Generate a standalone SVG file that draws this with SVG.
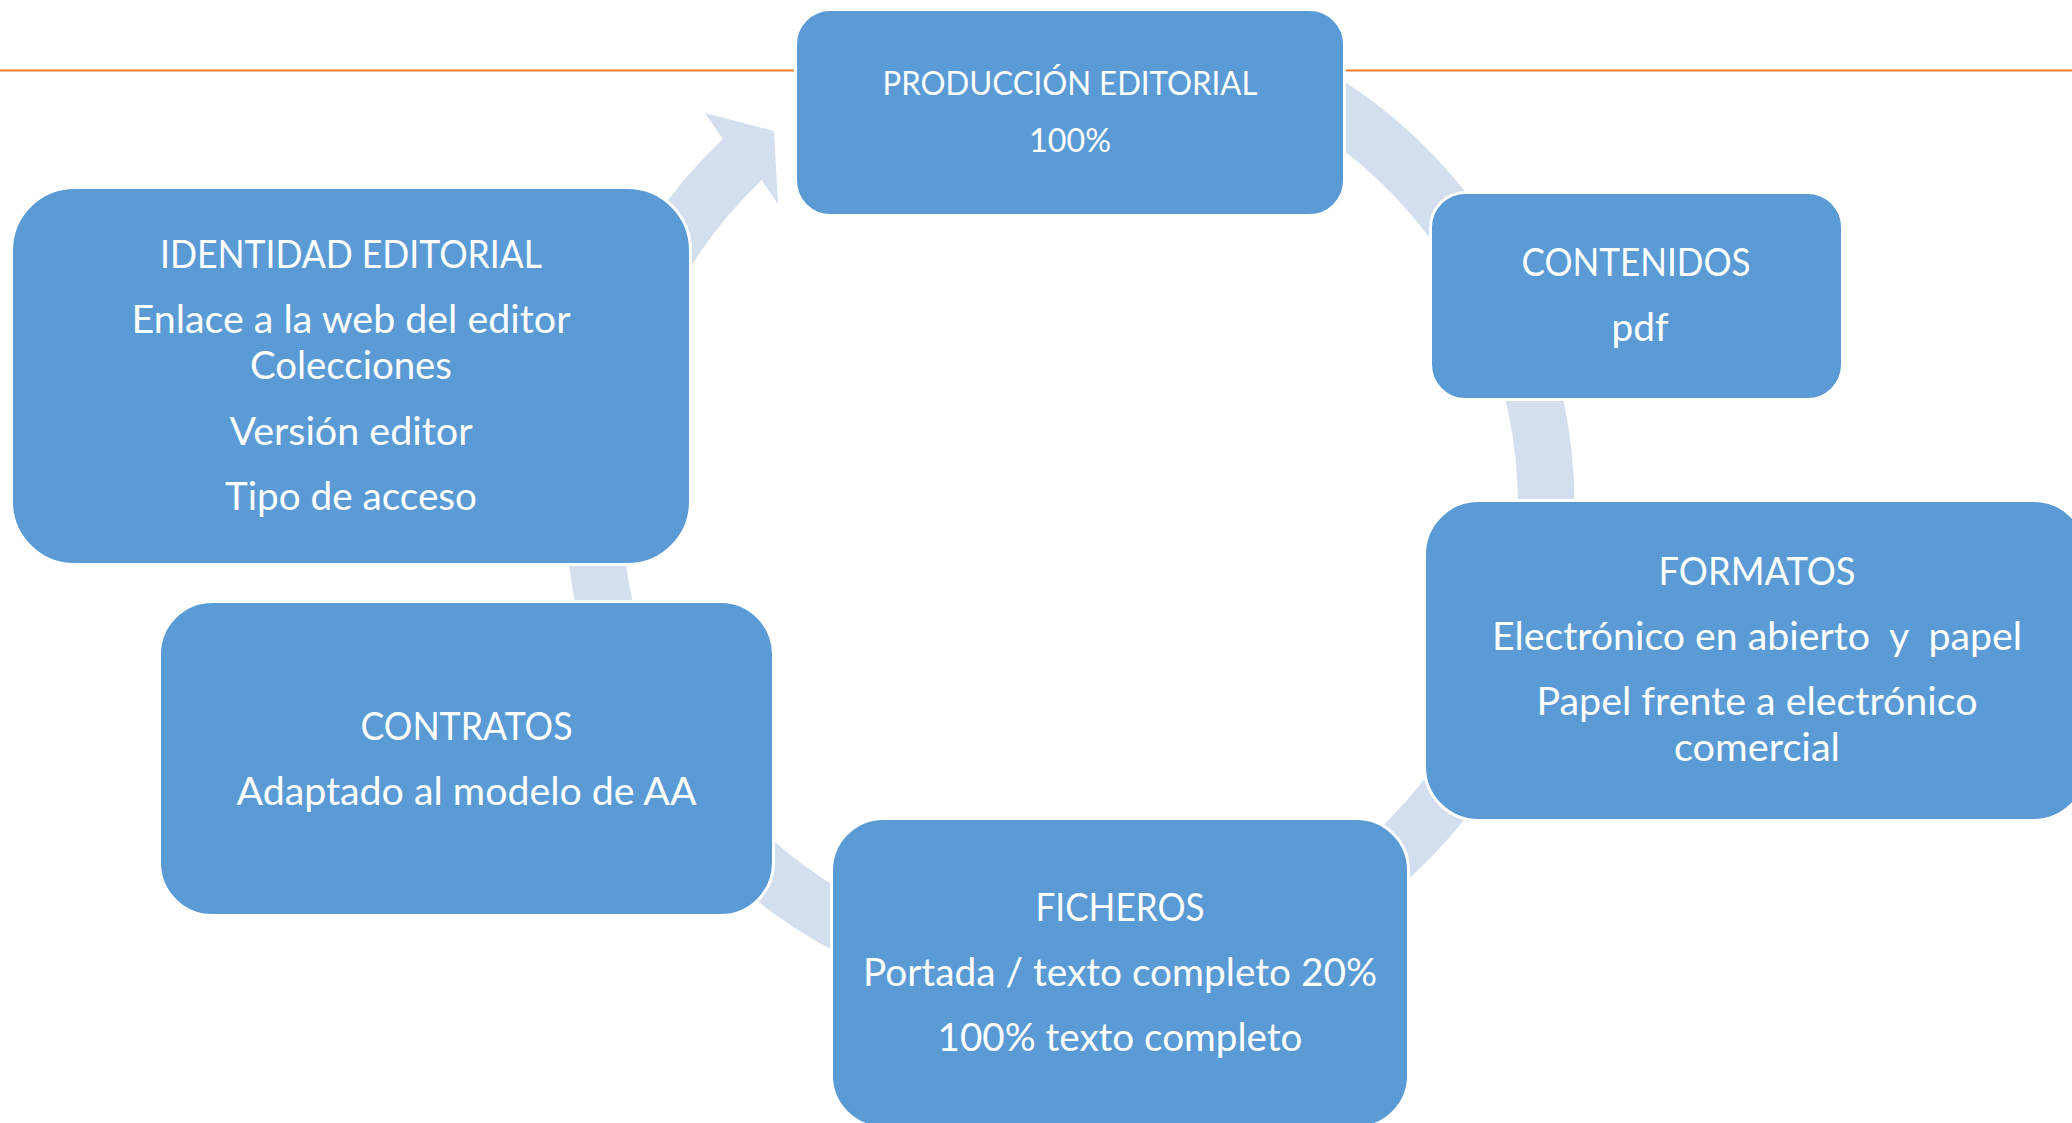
<svg xmlns="http://www.w3.org/2000/svg" width="2072" height="1123" viewBox="0 0 2072 1123">
  <style>
    .node rect { fill: #5B9BD5; stroke: #FFFFFF; stroke-width: 3; }
    .node text { fill: #FFFFFF; font-family: Lato, "Open Sans", "Noto Sans", sans-serif; font-size: 38px; text-anchor: middle; }
    .node text.small { font-size: 33.5px; }
    .band { fill: #D3DEEF; stroke: none; }
    .rule { stroke: #ED7D31; stroke-width: 2; fill: none; }
  </style>
  <rect x="0" y="0" width="2072" height="1123" fill="#FFFFFF"/>
  <line class="rule" x1="0" y1="70.5" x2="2072" y2="70.5"/>

  <g id="connectors">
    <path class="band" d="M 1200.57 17.69 A 504.5 504.5 0 1 1 722.72 139.05 L 705 113 L 774 131 L 778 204 L 761.62 180.03 A 448 448 0 1 0 1185.95 72.27 Z"/>
  </g>

  <g id="node-produccion" class="node">
    <rect x="795.5" y="9.5" width="549" height="206" rx="35" ry="35"/>
    <text class="small" x="1070" y="95" textLength="375" lengthAdjust="spacingAndGlyphs">PRODUCCIÓN EDITORIAL</text>
    <text class="small" x="1070" y="152" textLength="82" lengthAdjust="spacingAndGlyphs">100%</text>
  </g>

  <g id="node-contenidos" class="node">
    <rect x="1430.5" y="192.5" width="412" height="207" rx="35" ry="35"/>
    <text x="1636" y="276" textLength="229" lengthAdjust="spacingAndGlyphs">CONTENIDOS</text>
    <text x="1640" y="341" textLength="57" lengthAdjust="spacingAndGlyphs">pdf</text>
  </g>

  <g id="node-formatos" class="node">
    <rect x="1424.5" y="500.5" width="663" height="320" rx="54" ry="54"/>
    <text x="1757" y="585" textLength="197" lengthAdjust="spacingAndGlyphs">FORMATOS</text>
    <text x="1757" y="650" textLength="530" lengthAdjust="spacingAndGlyphs" xml:space="preserve">Electrónico en abierto  y  papel</text>
    <text x="1757" y="715" textLength="441" lengthAdjust="spacingAndGlyphs">Papel frente a electrónico</text>
    <text x="1757" y="761" textLength="166" lengthAdjust="spacingAndGlyphs">comercial</text>
  </g>

  <g id="node-ficheros" class="node">
    <rect x="831.5" y="818.5" width="577" height="309" rx="52" ry="52"/>
    <text x="1120" y="921" textLength="169" lengthAdjust="spacingAndGlyphs">FICHEROS</text>
    <text x="1120" y="986" textLength="514" lengthAdjust="spacingAndGlyphs">Portada / texto completo 20%</text>
    <text x="1120" y="1051" textLength="365" lengthAdjust="spacingAndGlyphs">100% texto completo</text>
  </g>

  <g id="node-contratos" class="node">
    <rect x="159.5" y="601.5" width="614" height="314" rx="53" ry="53"/>
    <text x="466.5" y="740" textLength="212" lengthAdjust="spacingAndGlyphs">CONTRATOS</text>
    <text x="466.5" y="805" textLength="460" lengthAdjust="spacingAndGlyphs">Adaptado al modelo de AA</text>
  </g>

  <g id="node-identidad" class="node">
    <rect x="11.5" y="187.5" width="679" height="377" rx="63" ry="63"/>
    <text x="351" y="268" textLength="382" lengthAdjust="spacingAndGlyphs">IDENTIDAD EDITORIAL</text>
    <text x="351" y="333" textLength="439" lengthAdjust="spacingAndGlyphs">Enlace a la web del editor</text>
    <text x="351" y="379" textLength="202" lengthAdjust="spacingAndGlyphs">Colecciones</text>
    <text x="351" y="445" textLength="243" lengthAdjust="spacingAndGlyphs">Versión editor</text>
    <text x="351" y="510" textLength="252" lengthAdjust="spacingAndGlyphs">Tipo de acceso</text>
  </g>
</svg>
